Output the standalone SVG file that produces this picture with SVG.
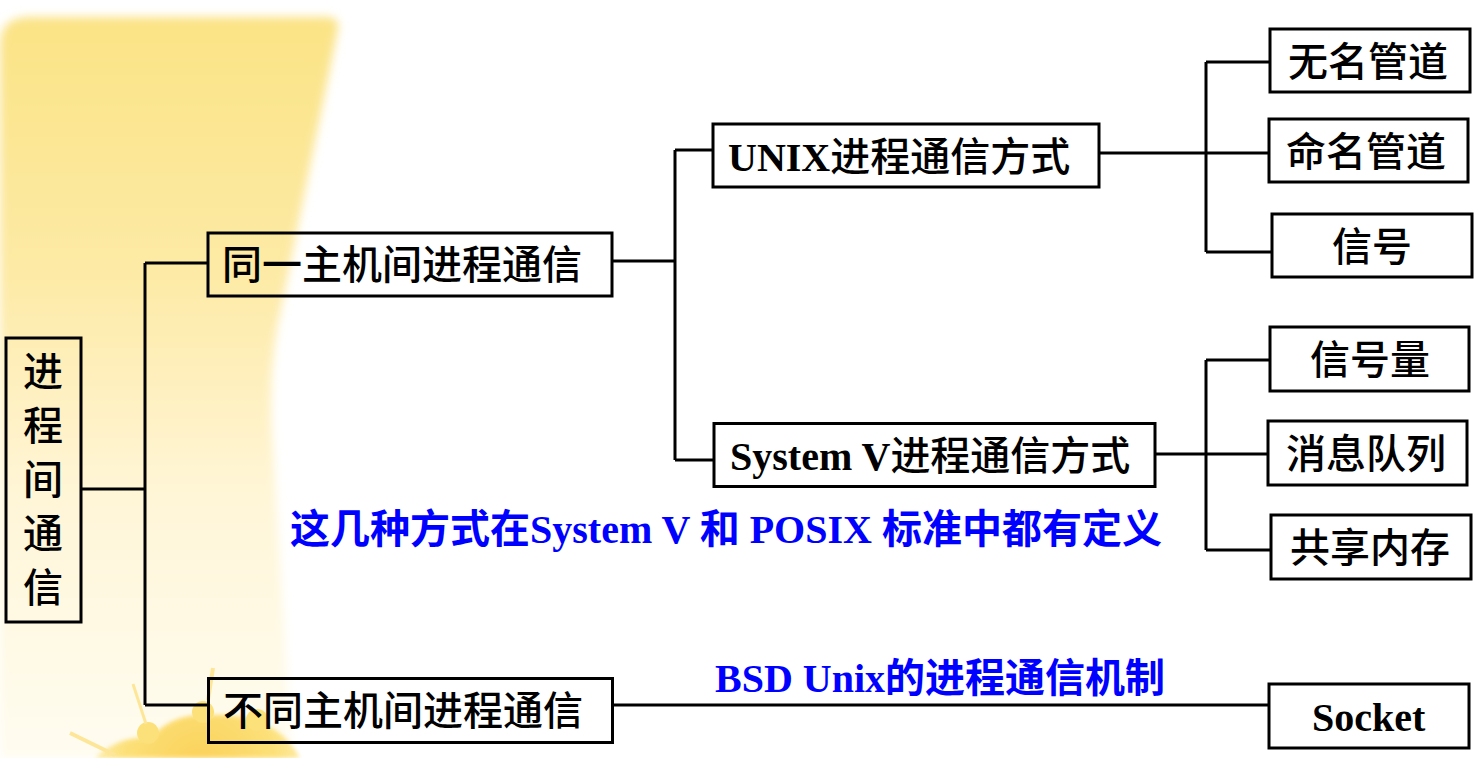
<svg xmlns="http://www.w3.org/2000/svg" width="1484" height="758" viewBox="0 0 1484 758">
<defs>
<linearGradient id="band" x1="0" y1="17" x2="0" y2="758" gradientUnits="userSpaceOnUse">
<stop offset="0" stop-color="#fbe385"/>
<stop offset="0.35" stop-color="#fdeaa6"/>
<stop offset="0.65" stop-color="#fff6d8"/>
<stop offset="1" stop-color="#fffcf0"/>
</linearGradient>
<radialGradient id="crown" cx="200" cy="770" r="130" gradientUnits="userSpaceOnUse">
<stop offset="0" stop-color="#fbc93c"/>
<stop offset="0.6" stop-color="#fcdc66"/>
<stop offset="1" stop-color="#fde88f" stop-opacity="0.6"/>
</radialGradient>
<filter id="soft" x="-10%" y="-10%" width="120%" height="120%">
<feGaussianBlur stdDeviation="5"/>
</filter>
<filter id="soft2" x="-10%" y="-10%" width="120%" height="120%">
<feGaussianBlur stdDeviation="2"/>
</filter>
<style>
.box{fill:none;stroke:#000;stroke-width:3}
.ln{fill:none;stroke:#000;stroke-width:3}
.zh{font-family:"Noto Sans CJK SC","Noto Sans",sans-serif;font-weight:500;font-size:40px;fill:#000}
.lat{font-family:"Liberation Serif","Times New Roman",serif;font-weight:bold;font-size:40px}
.blue{fill:#0000ff}
.bzh{font-family:"Noto Sans CJK SC","Noto Sans",sans-serif;font-weight:bold;font-size:40px}
</style>
</defs>
<rect x="0" y="0" width="1484" height="758" fill="#fff"/>
<g id="background">
<path d="M0,45 Q0,17 30,17 L326,17 Q342,17 337,33 L283,300 Q268,360 272,430 L292,758 L0,758 Z" fill="url(#band)" filter="url(#soft)"/>
<g id="crown-deco" opacity="0.85">
<path d="M95,758 Q120,735 150,738 Q175,712 205,716 Q232,712 258,722 Q285,730 300,758 Z" fill="url(#crown)" filter="url(#soft2)"/>
<circle cx="148" cy="733" r="11" fill="#fcdc66"/>
<circle cx="203" cy="712" r="11" fill="#fcdc66"/>
<circle cx="257" cy="720" r="11" fill="#fcdc66"/>
<path d="M213,668 L208,700" stroke="#fde38a" stroke-width="4"/>
<path d="M133,684 L146,724" stroke="#fde38a" stroke-width="3"/>
<path d="M70,733 L115,755" stroke="#fde38a" stroke-width="4"/>
</g>
</g>
<g id="connectors">
<path class="ln" d="M81,489 H145 M145,263 V705 M145,263 H208 M145,705 H208"/>
<path class="ln" d="M612,261 H675 M675,150 V460 M675,150 H712 M675,460 H713"/>
<path class="ln" d="M1099,153 H1268 M1206,62 V252 M1206,62 H1269 M1206,252 H1271"/>
<path class="ln" d="M1155,454 H1267 M1206,360 V550 M1206,360 H1269 M1206,550 H1271"/>
<path class="ln" d="M613,705 H1268"/>
</g>
<g id="root">
<rect class="box" x="6" y="338" width="75" height="284"/>
<text class="zh" text-anchor="middle" x="43" y="386">进</text>
<text class="zh" text-anchor="middle" x="43" y="440">程</text>
<text class="zh" text-anchor="middle" x="43" y="494">间</text>
<text class="zh" text-anchor="middle" x="43" y="548">通</text>
<text class="zh" text-anchor="middle" x="43" y="602">信</text>
</g>
<g id="same-host">
<rect class="box" x="208" y="233" width="404" height="63"/>
<text class="zh" x="222" y="279">同一主机间进程通信</text>
</g>
<g id="diff-host">
<rect class="box" x="208.5" y="678.5" width="404" height="64"/>
<text class="zh" x="223" y="725">不同主机间进程通信</text>
</g>
<g id="unix">
<rect class="box" x="713" y="124" width="386" height="63"/>
<text x="728" y="171"><tspan class="lat">UNIX</tspan><tspan class="zh" font-weight="400">进程通信方式</tspan></text>
</g>
<g id="systemv">
<rect class="box" x="714" y="423.5" width="441" height="63"/>
<text x="730" y="470"><tspan class="lat">System V</tspan><tspan class="zh" font-weight="400">进程通信方式</tspan></text>
</g>
<g id="pipe">
<rect class="box" x="1270" y="29" width="200" height="63"/>
<text class="zh" x="1288" y="76">无名管道</text>
</g>
<g id="fifo">
<rect class="box" x="1269" y="119" width="199" height="63"/>
<text class="zh" x="1286" y="166">命名管道</text>
</g>
<g id="signal">
<rect class="box" x="1272" y="214" width="200" height="63"/>
<text class="zh" x="1332" y="261">信号</text>
</g>
<g id="semaphore">
<rect class="box" x="1270" y="327" width="199" height="64"/>
<text class="zh" x="1310" y="374">信号量</text>
</g>
<g id="msgqueue">
<rect class="box" x="1268" y="421" width="199" height="64"/>
<text class="zh" x="1286" y="468">消息队列</text>
</g>
<g id="shm">
<rect class="box" x="1271" y="515" width="200" height="64"/>
<text class="zh" x="1290" y="562">共享内存</text>
</g>
<g id="socket">
<rect class="box" x="1269" y="684" width="200" height="64"/>
<text class="lat" x="1312" y="731">Socket</text>
</g>
<g id="notes">
<text class="blue" x="290" y="543"><tspan class="bzh">这几种方式在</tspan><tspan class="lat">System V </tspan><tspan class="bzh">和</tspan><tspan class="lat"> POSIX </tspan><tspan class="bzh">标准中都有定义</tspan></text>
<text class="blue" x="715" y="692"><tspan class="lat">BSD Unix</tspan><tspan class="bzh">的进程通信机制</tspan></text>
</g>
</svg>
